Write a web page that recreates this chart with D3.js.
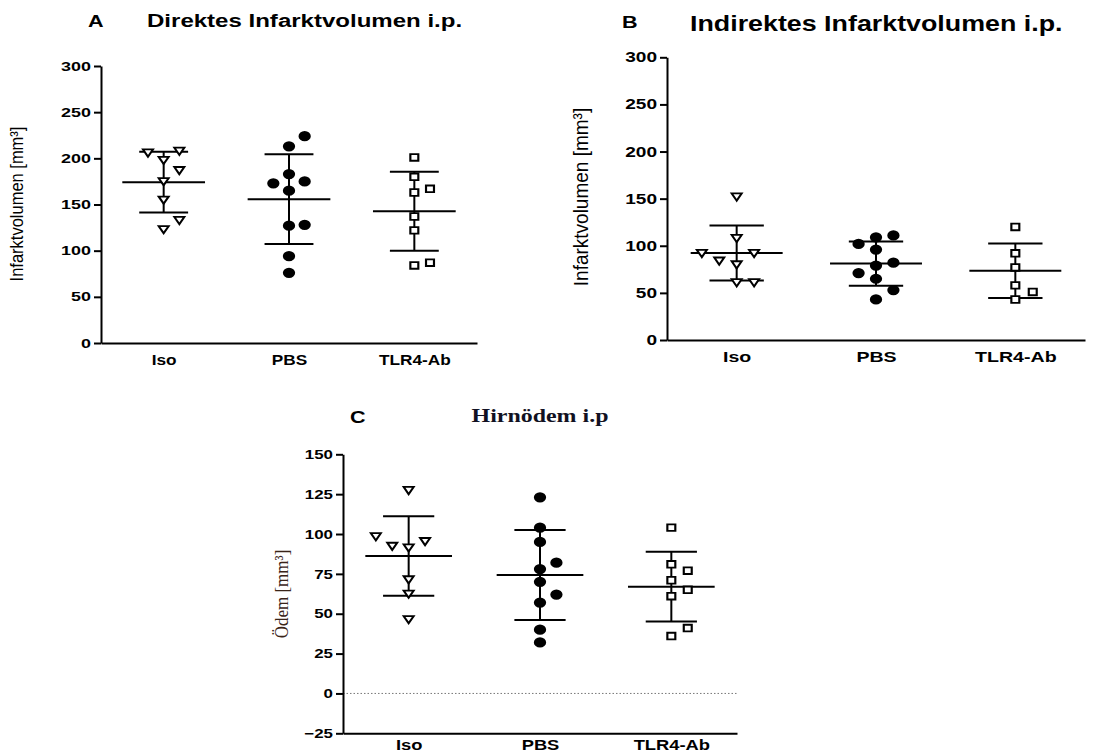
<!DOCTYPE html>
<html>
<head>
<meta charset="utf-8">
<script src="https://cdn.jsdelivr.net/npm/d3@7"></script>
<style>
  body { margin: 0; background: #fff; }
  svg { display: block; }
</style>
</head>
<body>
<svg width="1094" height="753"></svg>
<script>
const groups = ["Iso", "PBS", "TLR4-Ab"];

// A: direktes Infarktvolumen [mm³]
const directIso  = [199, 176, 156, 124, 209, 207, 188, 134];
const directPbs  = [213, 183, 165, 127, 94, 76, 175, 173, 128, 224];
const directTlr4 = [201, 180, 163, 137, 122, 84, 167, 87];

// B: indirektes Infarktvolumen [mm³]
const indirectIso  = [153, 109, 81, 62, 93, 85, 93, 62];
const indirectPbs  = [109, 96, 79, 65, 43, 111, 102, 82, 71, 53];
const indirectTlr4 = [120, 92, 77, 58, 51, 43];

// C: Hirnödem [mm³]
const edemaIso  = [128, 92, 72, 63, 47, 96, 93, 99];
const edemaPbs  = [123, 104, 95, 78, 70, 57, 40, 32, 82, 62];
const edemaTlr4 = [104, 81, 71, 61, 36, 77, 65, 41];

const ticksInfarct = [0, 50, 100, 150, 200, 250, 300];
const ticksEdema   = [-25, 0, 25, 50, 75, 100, 125, 150];

const svg   = d3.select("svg");
const sans  = "'Liberation Sans', Arial, Helvetica, sans-serif";
const serif = "'Liberation Serif', 'Times New Roman', serif";

const panels = [
  {
    letter: "A", title: "Direktes Infarktvolumen i.p.", yLabel: "Infarktvolumen [mm³]",
    data: [directIso, directPbs, directTlr4], ticks: ticksInfarct,
    x0: 101, x1: 477, top: 66, bottom: 343,
    titleAt: [147, 26.5], titleSize: 18.5, titleSx: 1.3, titleFont: sans, titleAnchor: "start",
    letterAt: [88, 27],
    yLabelAt: [23, 204], yLabelSize: 16.5, yLabelFont: sans, yLabelFill: "#000",
    tickFont: 13, tickSx: 1.38, catFont: 14, catSx: 1.23, catPad: 12
  },
  {
    letter: "B", title: "Indirektes Infarktvolumen i.p.", yLabel: "Infarktvolumen [mm³]",
    data: [indirectIso, indirectPbs, indirectTlr4], ticks: ticksInfarct,
    x0: 667, x1: 1085, top: 57.3, bottom: 340,
    titleAt: [690, 30.7], titleSize: 22, titleSx: 1.22, titleFont: sans, titleAnchor: "start",
    letterAt: [622, 28],
    yLabelAt: [588, 197], yLabelSize: 19, yLabelFont: sans, yLabelFill: "#000",
    tickFont: 14, tickSx: 1.36, catFont: 14.5, catSx: 1.35, catPad: 11.5
  },
  {
    letter: "C", title: "Hirnödem i.p", yLabel: "Ödem [mm³]",
    data: [edemaIso, edemaPbs, edemaTlr4], ticks: ticksEdema,
    x0: 343, x1: 737, top: 454.3, bottom: 733.3,
    titleAt: [540, 422], titleSize: 18, titleSx: 1.33, titleFont: serif, titleAnchor: "middle",
    letterAt: [350, 423],
    yLabelAt: [288, 594], yLabelSize: 17, yLabelFont: serif, yLabelFill: "#3a2418",
    tickFont: 13, tickSx: 1.3, catFont: 14, catSx: 1.31, catPad: 7
  }
];

const shapes = [
  { path: d3.symbol(d3.symbolTriangle, 30)(), fill: "#fff", rot: 180 },
  { path: d3.symbol(d3.symbolCircle, 56)(),   fill: "#000", rot: 0 },
  { path: d3.symbol(d3.symbolSquare, 44)(),   fill: "#fff", rot: 0 }
];

function addText(g, str, x, y, o) {
  return g.append("text")
    .attr("transform", `translate(${x},${y}) scale(${o.sx || 1},1)` + (o.rotate ? " rotate(-90)" : ""))
    .attr("font-family", o.family || sans)
    .attr("font-weight", o.weight || "normal")
    .attr("font-size", o.size)
    .attr("text-anchor", o.anchor || "start")
    .attr("fill", o.fill || "#000")
    .text(str);
}

// points that would overlap are pushed into side lanes: right, left, then further left/right
function swarm(values, y) {
  const placed = [];
  const lanes = [0, 1, -1, -2, 2];
  return values.map(v => {
    const py = y(v);
    let k = lanes.find(l => !placed.some(p => p.k === l && Math.abs(p.py - py) < 11.8));
    if (k === undefined) k = 0;
    placed.push({ k, py });
    return { v, k, py };
  });
}

function drawPanel(cfg) {
  const g = svg.append("g");

  const y = d3.scaleLinear().domain(d3.extent(cfg.ticks)).range([cfg.bottom, cfg.top]);
  const x = d3.scalePoint().domain(groups).range([cfg.x0, cfg.x1]).padding(0.5);
  const step = x.step();

  // zero reference line (only when the axis goes below 0)
  if (y.domain()[0] < 0) {
    g.append("line")
      .attr("x1", cfg.x0).attr("x2", cfg.x1)
      .attr("y1", y(0)).attr("y2", y(0))
      .attr("stroke", "#777").attr("stroke-width", 1)
      .attr("stroke-dasharray", "1.5,2");
  }

  const yAxis = g.append("g")
    .attr("transform", `translate(${cfg.x0},0)`)
    .call(d3.axisLeft(y).tickValues(cfg.ticks).tickSize(7).tickPadding(3).tickSizeOuter(0));
  yAxis.attr("font-family", sans).attr("font-weight", "bold").attr("font-size", cfg.tickFont);
  yAxis.selectAll(".tick text")
    .attr("x", -10 / cfg.tickSx)
    .attr("transform", `scale(${cfg.tickSx},1)`);

  const xAxis = g.append("g")
    .attr("transform", `translate(0,${cfg.bottom})`)
    .call(d3.axisBottom(x).tickSize(0).tickPadding(cfg.catPad).tickSizeOuter(0));
  xAxis.attr("font-family", sans).attr("font-weight", "bold").attr("font-size", cfg.catFont);
  xAxis.selectAll(".tick text").attr("transform", `scale(${cfg.catSx},1)`);

  g.selectAll(".domain, .tick line").attr("stroke", "#000").attr("stroke-width", 2);

  // mean ± SD
  cfg.data.forEach((vals, i) => {
    const cx = x(groups[i]);
    const m = d3.mean(vals), s = d3.deviation(vals);
    const bars = g.append("g").attr("stroke", "#000").attr("stroke-width", 2);
    bars.append("line").attr("x1", cx).attr("x2", cx).attr("y1", y(m - s)).attr("y2", y(m + s));
    [m - s, m + s].forEach(v => bars.append("line")
      .attr("x1", cx - 0.195 * step).attr("x2", cx + 0.195 * step)
      .attr("y1", y(v)).attr("y2", y(v)));
    bars.append("line")
      .attr("x1", cx - 0.33 * step).attr("x2", cx + 0.33 * step)
      .attr("y1", y(m)).attr("y2", y(m));
  });

  // individual animals
  cfg.data.forEach((vals, i) => {
    const cx = x(groups[i]);
    const shp = shapes[i];
    const laneW = 0.125 * step;
    g.append("g").selectAll("path")
      .data(swarm(vals, y))
      .join("path")
      .attr("d", shp.path)
      .attr("transform", d => `translate(${cx + d.k * laneW},${d.py}) scale(1.2,1) rotate(${shp.rot})`)
      .attr("fill", shp.fill)
      .attr("stroke", "#000")
      .attr("stroke-width", 1.8);
  });

  addText(g, cfg.letter, cfg.letterAt[0], cfg.letterAt[1],
    { size: 16, sx: 1.35, weight: "bold", family: sans });
  addText(g, cfg.title, cfg.titleAt[0], cfg.titleAt[1],
    { size: cfg.titleSize, sx: cfg.titleSx, weight: "bold", family: cfg.titleFont,
      anchor: cfg.titleAnchor, fill: cfg.titleFont === serif ? "#111122" : "#000" });
  addText(g, cfg.yLabel, cfg.yLabelAt[0], cfg.yLabelAt[1],
    { size: cfg.yLabelSize, sx: 1.1, family: cfg.yLabelFont, anchor: "middle",
      rotate: true, fill: cfg.yLabelFill });
}

panels.forEach(drawPanel);
</script>
</body>
</html>
